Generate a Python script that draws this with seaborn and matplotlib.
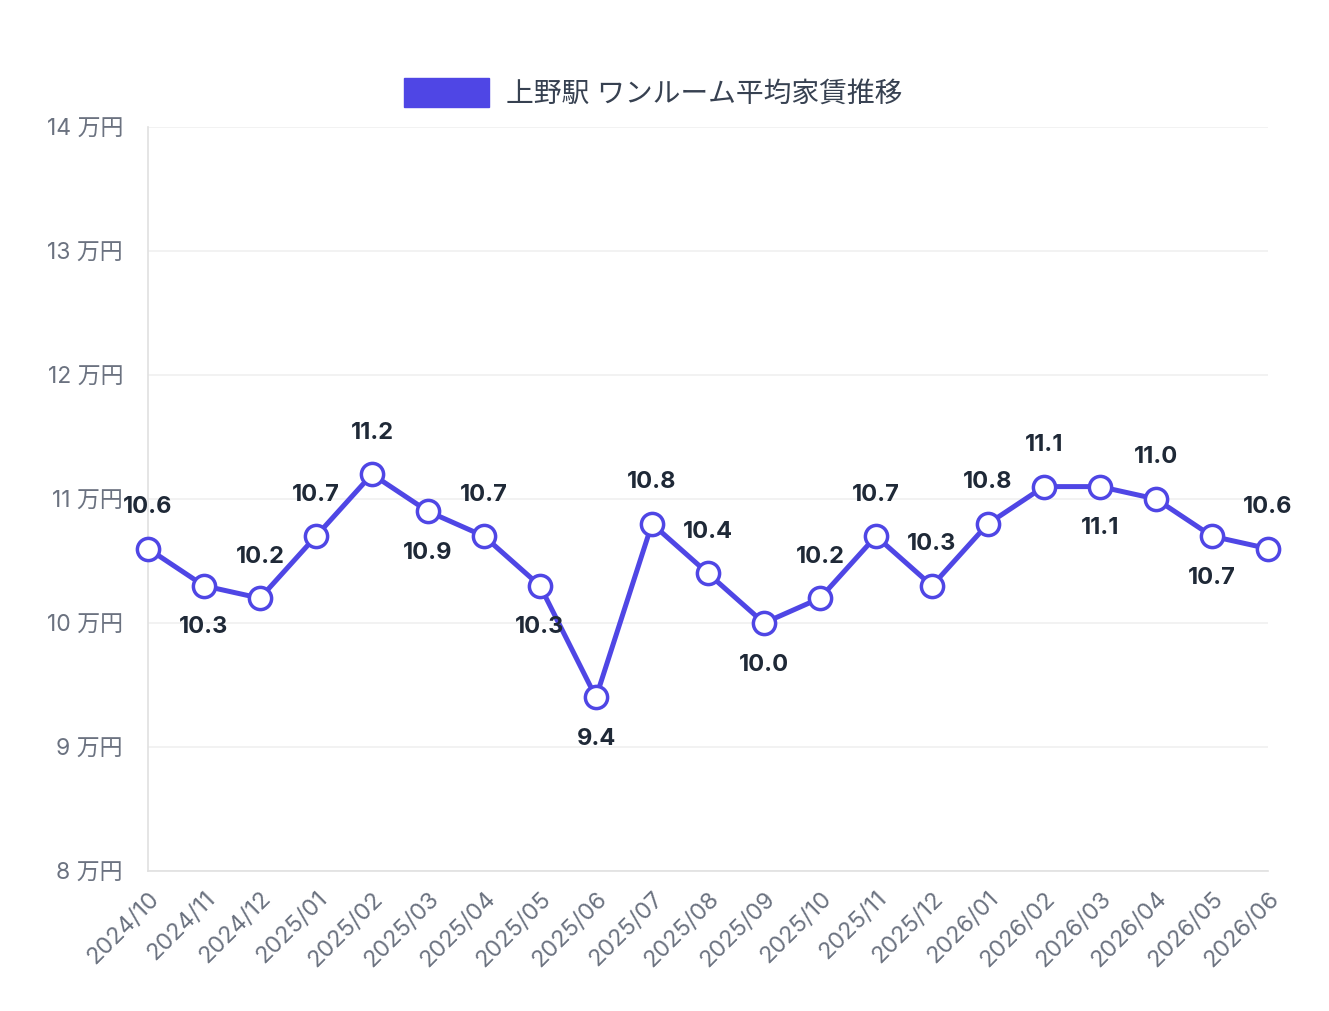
import seaborn as sns
import pandas as pd
import matplotlib.pyplot as plt
from matplotlib.patches import Patch

months = ['2024/10', '2024/11', '2024/12', '2025/01', '2025/02', '2025/03', '2025/04',
          '2025/05', '2025/06', '2025/07', '2025/08', '2025/09', '2025/10', '2025/11',
          '2025/12', '2026/01', '2026/02', '2026/03', '2026/04', '2026/05', '2026/06']
rent = [10.6, 10.3, 10.2, 10.7, 11.2, 10.9, 10.7, 10.3, 9.4, 10.8, 10.4, 10.0,
        10.2, 10.7, 10.3, 10.8, 11.1, 11.1, 11.0, 10.7, 10.6]
series_name = '上野駅 ワンルーム平均家賃推移'

# label placement: +1 above the point, -1 below
label_side = [1, -1, 1, 1, 1, -1, 1, -1, -1, 1, 1, -1, 1, 1, 1, 1, 1, -1, 1, -1, 1]

df = pd.DataFrame({'month': months, 'rent': rent})
df['idx'] = range(len(df))

sns.set_style('white')
plt.rcParams['font.family'] = ['Inter', 'Noto Sans CJK JP', 'DejaVu Sans']

color = '#4f46e5'
fig = plt.figure(figsize=(13.29, 10.11), dpi=100)
ax = fig.add_axes([148 / 1329, 1 - 871 / 1011, 1120 / 1329, 744 / 1011])

sns.lineplot(data=df, x='idx', y='rent', ax=ax, color=color, linewidth=3.6,
             marker='o', markersize=16, markerfacecolor='white',
             markeredgecolor=color, markeredgewidth=2.5, zorder=3)

for i, (v, s) in enumerate(zip(rent, label_side)):
    ax.annotate(f'{v:.1f}', (i, v), xytext=(0, 30 * s), textcoords='offset points',
                ha='center', va='center', fontsize=17, fontweight='bold',
                color='#1f2937', zorder=4)

ax.set_xlim(0, len(months) - 1)
ax.set_ylim(8, 14)
ax.set_yticks(range(8, 15))
ax.set_yticklabels([f'{v} 万円' for v in range(8, 15)])
ax.set_xticks(range(len(months)))
ax.set_xticklabels(months, rotation=45, ha='right', rotation_mode='anchor')
ax.set_xlabel('')
ax.set_ylabel('')

ax.grid(axis='y', color='#f0f0f0', linewidth=1.2)
ax.grid(axis='x', visible=False)
ax.tick_params(axis='y', length=16, color='#f0f0f0', width=1.2, pad=2,
               labelsize=16.5, labelcolor='#6b7280')
ax.tick_params(axis='x', length=0, pad=12, labelsize=17, labelcolor='#6b7280')
for side in ['top', 'right']:
    ax.spines[side].set_visible(False)
for side in ['left', 'bottom']:
    ax.spines[side].set_color('#e0e0e0')
    ax.spines[side].set_linewidth(1.2)
ax.set_axisbelow(True)
for line in ax.lines:
    line.set_clip_on(False)

handle = Patch(facecolor=color, edgecolor=color)
fig.legend([handle], [series_name], loc='center', bbox_to_anchor=(653 / 1329, 1 - 93 / 1011),
           frameon=False, fontsize=20, handlelength=3.05, handleheight=1.2,
           handletextpad=0.6, labelcolor='#374151')

fig.savefig('out.png', dpi=100, facecolor='white')
